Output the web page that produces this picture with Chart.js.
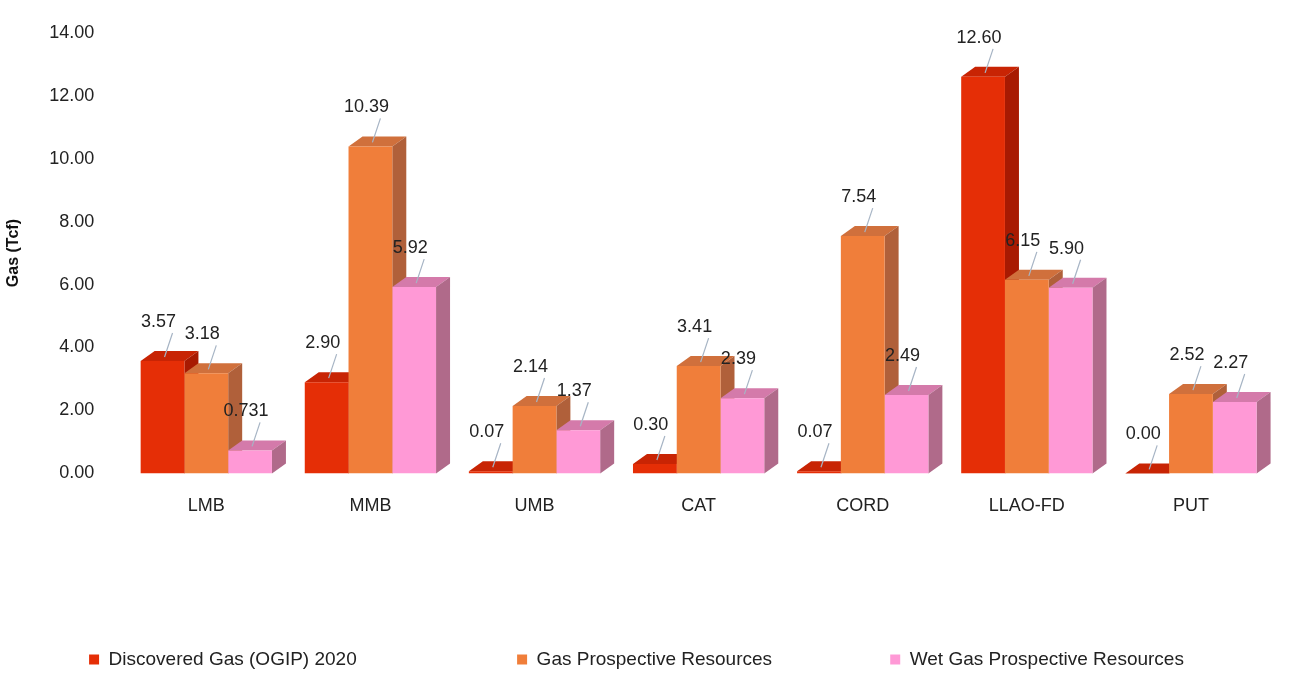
<!DOCTYPE html>
<html>
<head>
<meta charset="utf-8">
<script src="https://cdn.jsdelivr.net/npm/chart.js@4"></script>
<style>
  html, body { margin: 0; padding: 0; background: #fff; }
  #wrap { width: 1295px; height: 679px; }
</style>
</head>
<body>
<div id="wrap"><canvas id="gasChart"></canvas></div>
<script>
'use strict';

const BASINS = ['LMB', 'MMB', 'UMB', 'CAT', 'CORD', 'LLAO-FD', 'PUT'];
const DISCOVERED = [3.57, 2.90, 0.07, 0.30, 0.07, 12.60, 0.00];
const PROSPECTIVE = [3.18, 10.39, 2.14, 3.41, 7.54, 6.15, 2.52];
const WET_PROSPECTIVE = [0.731, 5.92, 1.37, 2.39, 2.49, 5.90, 2.27];
const LABELS_DISC = ['3.57', '2.90', '0.07', '0.30', '0.07', '12.60', '0.00'];
const LABELS_PROS = ['3.18', '10.39', '2.14', '3.41', '7.54', '6.15', '2.52'];
const LABELS_WET = ['0.731', '5.92', '1.37', '2.39', '2.49', '5.90', '2.27'];

const FRONT = ['#e52e06', '#f07e3a', '#ff99d6'];
const TOP = ['#c82404', '#d0703c', '#d47aaa'];
const SIDE = ['#a81a02', '#b0603a', '#b06a8a'];
const DEPTH_X = 14, DEPTH_Y = 10;
const FONT = '"Liberation Sans", Arial, sans-serif';
// trailing spaces spread the legend items out like the original
const LEGEND_GAPS = [30, 22, 0];

// top and side faces go behind the fronts; labels go on top of everything
const bars3d = {
    id: 'bars3d',
    beforeDatasetsDraw(chart) {
        const ctx = chart.ctx;
        chart.data.datasets.forEach((ds, di) => {
            chart.getDatasetMeta(di).data.forEach(bar => {
                const l = bar.x - bar.width / 2, r = bar.x + bar.width / 2;
                const t = bar.y, b = bar.base;
                ctx.save();
                ctx.fillStyle = TOP[di];
                ctx.beginPath();
                ctx.moveTo(l, t); ctx.lineTo(l + DEPTH_X, t - DEPTH_Y);
                ctx.lineTo(r + DEPTH_X, t - DEPTH_Y); ctx.lineTo(r, t); ctx.closePath();
                ctx.fill();
                ctx.fillStyle = SIDE[di];
                ctx.beginPath();
                ctx.moveTo(r, t); ctx.lineTo(r + DEPTH_X, t - DEPTH_Y);
                ctx.lineTo(r + DEPTH_X, b - DEPTH_Y); ctx.lineTo(r, b); ctx.closePath();
                ctx.fill();
                ctx.restore();
            });
        });
    },
    afterDatasetsDraw(chart) {
        const ctx = chart.ctx;
        const textSets = [LABELS_DISC, LABELS_PROS, LABELS_WET];
        chart.data.datasets.forEach((ds, di) => {
            chart.getDatasetMeta(di).data.forEach((bar, i) => {
                const t = bar.y;
                const lx = bar.x - 4, ly = t - 36;
                ctx.save();
                ctx.strokeStyle = '#a6b4c4';
                ctx.lineWidth = 1.2;
                ctx.beginPath();
                ctx.moveTo(bar.x + 2, t - 4);
                ctx.lineTo(lx + 14, ly + 8);
                ctx.stroke();
                ctx.fillStyle = '#222';
                ctx.font = '18px ' + FONT;
                ctx.textAlign = 'center';
                ctx.textBaseline = 'bottom';
                ctx.fillText(textSets[di][i], lx, ly + 6);
                ctx.restore();
            });
        });
    }
};

new Chart(document.getElementById('gasChart'), {
    type: 'bar',
    data: {
        labels: BASINS,
        datasets: [
            { label: 'Discovered Gas (OGIP) 2020', data: DISCOVERED, backgroundColor: FRONT[0] },
            { label: 'Gas Prospective Resources', data: PROSPECTIVE, backgroundColor: FRONT[1] },
            { label: 'Wet Gas Prospective Resources', data: WET_PROSPECTIVE, backgroundColor: FRONT[2] }
        ]
    },
    options: {
        responsive: true, maintainAspectRatio: false, animation: false,
        layout: { padding: { top: 12, right: 22, left: 0, bottom: 0 } },
        categoryPercentage: 0.8, barPercentage: 1.0,
        plugins: {
            tooltip: { enabled: false },
            legend: {
                position: 'bottom',
                labels: {
                    color: '#222', font: { size: 19, family: FONT },
                    boxWidth: 10, boxHeight: 10, padding: 2,
                    generateLabels(chart) {
                        return Chart.defaults.plugins.legend.labels.generateLabels(chart).map((item, i) => {
                            item.text = item.text + '\u00a0'.repeat(LEGEND_GAPS[i]);
                            return item;
                        });
                    }
                }
            }
        },
        scales: {
            x: {
                grid: { display: false }, border: { display: false },
                ticks: { color: '#222', font: { size: 18, family: FONT }, padding: 14 },
                afterFit(scale) { scale.height += 117; }
            },
            y: {
                min: 0, max: 14,
                grid: { display: false }, border: { display: false },
                ticks: {
                    stepSize: 2, color: '#222', padding: 22,
                    font: { size: 18, family: FONT },
                    callback: v => v.toFixed(2)
                },
                title: { display: true, text: 'Gas (Tcf)', color: '#111', font: { size: 16, weight: 'bold', family: FONT } }
            }
        }
    },
    plugins: [bars3d]
});
</script>
</body>
</html>
